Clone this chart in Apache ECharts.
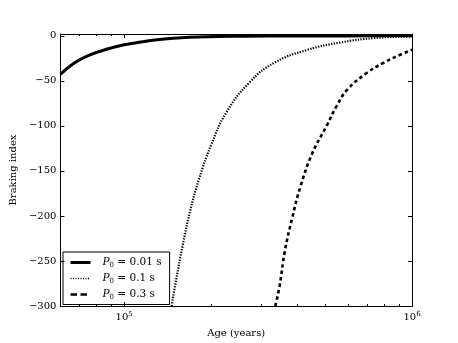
<!DOCTYPE html>
<html>
<head>
<meta charset="utf-8">
<script src="https://cdn.jsdelivr.net/npm/echarts@6/dist/echarts.min.js"></script>
<style>
  html, body { margin: 0; padding: 0; background: #fff; }
  #main { width: 458px; height: 343px; }
</style>
</head>
<body>
<div id="main"></div>
<script>
  // ages in years, braking index
  var ageA = [6.0e4, 6.73e4, 7.64e4, 8.73e4, 1.0e5, 1.16e5, 1.3e5, 1.48e5, 1.93e5, 2.6e5, 4.0e5, 6.0e5, 1.0e6];
  var nA   = [-43, -30, -21, -14.7, -10, -6.6, -4.4, -2.6, -1.0, -0.5, -0.2, -0.1, 0];

  var ageB = [1.462e5, 1.517e5, 1.596e5, 1.69e5, 1.82e5, 2.0e5, 2.26e5, 2.72e5, 3.32e5, 4.34e5, 5.65e5, 7.36e5, 9.6e5, 1.0e6];
  var nB   = [-300, -270, -233, -196, -159, -122, -85.5, -52, -30, -15.5, -7.4, -2.6, -1, -1];

  var ageC = [3.35e5, 3.47e5, 3.61e5, 3.83e5, 4.10e5, 4.51e5, 5.05e5, 5.47e5, 5.95e5, 6.98e5, 7.96e5, 9.1e5, 1.0e6];
  var nC   = [-300, -277, -240, -203, -167, -130, -100, -78, -60, -41, -30, -21, -15.5];

  var seriesNames = ['P0 = 0.01 s', 'P0 = 0.1 s', 'P0 = 0.3 s'];
  var legendText  = [' = 0.01 s', ' = 0.1 s', ' = 0.3 s'];

  var yTicks = [-300, -250, -200, -150, -100, -50, 0];
  var xMajor = [5, 6];
  var xMinorAges = [7e4, 8e4, 9e4, 2e5, 3e5, 4e5, 5e5, 6e5, 7e5, 8e5, 9e5];

  var xMin = Math.log10(6e4), xMax = 6;
  var xMinor = xMinorAges.map(function (a) { return Math.log10(a); });
  var font = 'DejaVu Serif';

  function pts(ages, vals) {
    return ages.map(function (a, i) { return [Math.log10(a), vals[i]]; });
  }

  function xAx(pos, ticks, len, withLabels) {
    return {
      type: 'value', position: pos, min: xMin, max: xMax,
      axisLine: { show: true, onZero: false, lineStyle: { color: '#000', width: 1 } },
      axisTick: { show: true, inside: true, length: len, customValues: ticks, lineStyle: { color: '#000', width: 1 } },
      axisLabel: withLabels ? {
        show: true, margin: 5, customValues: xMajor,
        formatter: function (v) { return '{b|10}{s|' + Math.round(v) + '}'; },
        rich: {
          b: { fontFamily: font, fontSize: 10, color: '#000' },
          s: { fontFamily: font, fontSize: 7, color: '#000', verticalAlign: 'top', padding: [0, 0, 6, 0] }
        }
      } : { show: false },
      splitLine: { show: false },
      name: withLabels ? 'Age (years)' : '',
      nameLocation: 'middle', nameGap: 22,
      nameTextStyle: { fontFamily: font, fontSize: 10, color: '#000' }
    };
  }

  function yAx(pos, withLabels) {
    return {
      type: 'value', position: pos, min: -300, max: 2,
      axisLine: { show: true, onZero: false, lineStyle: { color: '#000', width: 1 } },
      axisTick: { show: true, inside: true, length: 4, customValues: yTicks, lineStyle: { color: '#000', width: 1 } },
      axisLabel: withLabels ? {
        show: true, margin: 4, customValues: yTicks,
        fontFamily: font, fontSize: 10, color: '#000',
        formatter: function (v) { return String(v).replace('-', '\u2212'); }
      } : { show: false },
      splitLine: { show: false },
      name: withLabels ? 'Braking index' : '',
      nameLocation: 'middle', nameGap: 38, nameRotate: 90,
      nameTextStyle: { fontFamily: font, fontSize: 10, color: '#000' }
    };
  }

  var hiddenMark = { color: 'rgba(0,0,0,0)', borderWidth: 0, opacity: 0 };

  var option = {
    backgroundColor: '#fff',
    animation: false,
    grid: { left: 57, right: 46, top: 34, bottom: 36 },
    xAxis: [
      xAx('bottom', xMajor, 4, true),
      xAx('bottom', xMinor, 2, false),
      xAx('top', xMajor, 4, false),
      xAx('top', xMinor, 2, false)
    ],
    yAxis: [yAx('left', true), yAx('right', false)],
    legend: {
      orient: 'vertical', left: 63, top: 252,
      padding: [5, 8, 4, 6],
      borderColor: '#000', borderWidth: 1, borderRadius: 0,
      itemWidth: 20, itemHeight: 10, itemGap: 4.5,
      data: [
        { name: seriesNames[0], itemStyle: hiddenMark, lineStyle: { width: 3, type: 'solid' } },
        { name: seriesNames[1], itemStyle: hiddenMark, lineStyle: { width: 1.5, type: [1, 1.5] } },
        { name: seriesNames[2], itemStyle: hiddenMark, lineStyle: { width: 2.5, type: [6.5, 3.5] } }
      ],
      formatter: function (name) {
        var i = seriesNames.indexOf(name);
        return '{p|P}{s|0}{t|' + legendText[i] + '}';
      },
      textStyle: {
        rich: {
          p: { fontFamily: font, fontSize: 10.5, fontStyle: 'italic', color: '#000', padding: [0, 0, 0, 7], lineHeight: 12 },
          s: { fontFamily: font, fontSize: 7, color: '#000', verticalAlign: 'bottom', padding: [4, 0, 0, 0], lineHeight: 12 },
          t: { fontFamily: font, fontSize: 10.5, color: '#000', lineHeight: 12 }
        }
      }
    },
    series: [
      {
        name: seriesNames[0], type: 'line', data: pts(ageA, nA),
        xAxisIndex: 0, yAxisIndex: 0,
        smooth: 0.4, symbol: 'none',
        lineStyle: { color: '#000', width: 3, type: 'solid' },
        itemStyle: { color: '#000' }
      },
      {
        name: seriesNames[1], type: 'line', data: pts(ageB, nB),
        xAxisIndex: 0, yAxisIndex: 0,
        smooth: 0.45, symbol: 'none',
        lineStyle: { color: '#000', width: 2.2, type: [1.3, 1.4] },
        itemStyle: { color: '#000' }
      },
      {
        name: seriesNames[2], type: 'line', data: pts(ageC, nC),
        xAxisIndex: 0, yAxisIndex: 0,
        smooth: 0.45, symbol: 'none',
        lineStyle: { color: '#000', width: 2.6, type: [3.5, 3] },
        itemStyle: { color: '#000' }
      }
    ]
  };

  var myChart = echarts.init(document.getElementById('main'), null, { renderer: 'canvas' });
  myChart.setOption(option);
</script>
</body>
</html>
